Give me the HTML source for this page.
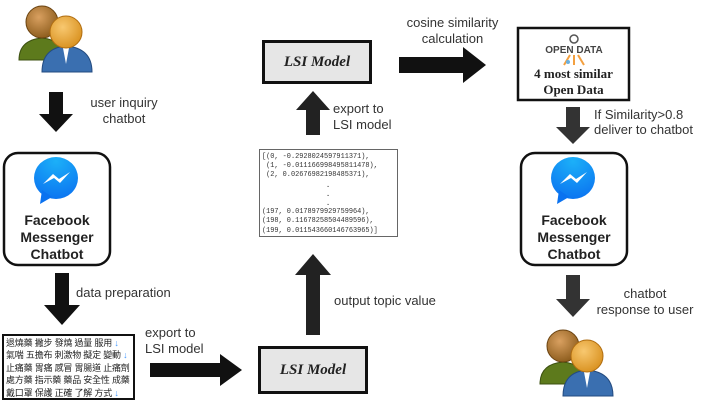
<!DOCTYPE html>
<html><head><meta charset="utf-8"><style>
body{margin:0;width:708px;height:403px;background:#fff;overflow:hidden;position:relative;font-family:"Liberation Sans",sans-serif}
.t{position:absolute;font-size:13px;color:#333;text-align:center;line-height:16px;white-space:nowrap}
.b{position:absolute;font-weight:bold;font-size:14px;color:#222;text-align:center;line-height:17px}
.code{position:absolute;left:259px;top:149px;width:139px;height:88px;border:1.5px solid #666;font-family:"Liberation Mono",monospace;font-size:6.9px;line-height:9.2px;color:#333;box-sizing:border-box;padding:3px 2px;white-space:pre;overflow:hidden}
.zh{position:absolute;left:2px;top:334px;width:133px;height:66px;border:2px solid #111;box-sizing:border-box;font-family:"Liberation Sans","Noto Sans CJK TC",sans-serif;font-size:9px;line-height:12.4px;padding:1px 2px;color:#222;white-space:nowrap;overflow:hidden;letter-spacing:-0.2px}
.zh span{color:#49f}
.lsi{position:absolute;width:110px;height:44px;border:3px solid #111;background:#e6e6e6;box-sizing:border-box;font-family:"Liberation Serif",serif;font-weight:bold;font-style:italic;font-size:15px;line-height:38px;text-align:center;color:#222}
</style></head><body>
<svg width="708" height="403" style="position:absolute;left:0;top:0">
<defs>
<radialGradient id="h1" cx="0.4" cy="0.35" r="0.7"><stop offset="0" stop-color="#d9a060"/><stop offset="1" stop-color="#8a5a1a"/></radialGradient>
<radialGradient id="h2" cx="0.4" cy="0.35" r="0.7"><stop offset="0" stop-color="#f8c870"/><stop offset="1" stop-color="#d8901e"/></radialGradient>
<radialGradient id="fb" cx="0.5" cy="0.1" r="1"><stop offset="0" stop-color="#1cb0f8"/><stop offset="1" stop-color="#0a6ff0"/></radialGradient>
<g id="users">
<path d="M5 58 Q5 38 28 36 Q50 38 52 58 Z" fill="#5d7a1c" stroke="#3c5010"/>
<circle cx="28" cy="20" r="16" fill="url(#h1)" stroke="#6b4310"/>
<path d="M28 70 Q28 46 52 44 Q78 46 78 70 Z" fill="#3a6fb0" stroke="#234b80"/>
<path d="M49 46 L52 62 L55 46 Z" fill="#fff"/>
<circle cx="52" cy="30" r="16" fill="url(#h2)" stroke="#b06d10"/>
</g>
<g id="msg">
<ellipse cx="0" cy="0" rx="22" ry="21" fill="url(#fb)"/>
<path d="M-14 12 L-16 26 L-4 19 Z" fill="#0a72f0"/>
<path d="M-13 6 l10 -10 l6 5 l11 -7 l-10 11 l-6 -5 z" fill="#fff"/>
</g>
</defs>
<use href="#users" x="14" y="2"/>
<use href="#users" x="535" y="326"/>
<rect x="4" y="153" width="106" height="112" rx="14" fill="#fff" stroke="#111" stroke-width="2.5"/>
<rect x="521" y="153" width="106" height="112" rx="14" fill="#fff" stroke="#111" stroke-width="2.5"/>
<use href="#msg" x="56" y="178"/>
<use href="#msg" x="573" y="178"/>
<rect x="518" y="28" width="111" height="72" fill="#fff" stroke="#111" stroke-width="2.5"/>
<g fill="#111">
<path d="M49 92 h14 v22 h10 l-17 18 l-17 -18 h10 z"/>
<path d="M55 273 h14 v32 h11 l-18 20 l-18 -20 h11 z"/>
<path d="M566 107 h14 v20 h10 l-17 17 l-17 -17 h10 z" fill="#333"/>
<path d="M566 275 h14 v24 h10 l-17 18 l-17 -18 h10 z" fill="#333"/>
<path d="M150 363 h70 v-9 l22 16 l-22 16 v-9 h-70 z"/>
<path d="M399 57 h64 v-10 l23 18 l-23 18 v-10 h-64 z"/>
<path d="M306 335 v-60 h-11 l18 -21 l18 21 h-11 v60 z" fill="#222"/>
<path d="M306 135 v-25 h-10 l17 -19 l17 19 h-10 v25 z" fill="#222"/>
</g>
<circle cx="574" cy="39" r="4" fill="none" stroke="#555" stroke-width="1.5"/>
<text x="574" y="53" font-family="Liberation Sans" font-size="10" font-weight="bold" fill="#444" text-anchor="middle">OPEN DATA</text>
<path d="M570 55 l-6 10 M574 55 l0 10 M578 55 l6 10" stroke="#f3a040" stroke-width="2"/>
<circle cx="568" cy="62" r="2" fill="#6ab0e0"/>
</svg>
<div class="t" style="left:84px;top:95px;width:80px">user inquiry<br>chatbot</div>
<div class="b" style="left:4px;top:212px;width:106px">Facebook<br>Messenger<br>Chatbot</div>
<div class="b" style="left:521px;top:212px;width:106px">Facebook<br>Messenger<br>Chatbot</div>
<div class="t" style="left:76px;top:285px;text-align:left">data preparation</div>
<div class="t" style="left:145px;top:325px;text-align:left">export to<br>LSI model</div>
<div class="t" style="left:334px;top:293px;text-align:left">output topic value</div>
<div class="t" style="left:333px;top:101px;text-align:left">export to<br>LSI model</div>
<div class="t" style="left:395px;top:15px;width:115px">cosine similarity<br>calculation</div>
<div class="t" style="left:594px;top:107px;text-align:left;line-height:15px">If Similarity&gt;0.8<br>deliver to chatbot</div>
<div class="t" style="left:595px;top:286px;width:100px">chatbot<br>response to user</div>
<div class="b" style="left:518px;top:66px;width:111px;font-family:'Liberation Serif',serif;font-size:13px;line-height:16px">4 most similar<br>Open Data</div>
<div class="lsi" style="left:262px;top:40px">LSI Model</div>
<div class="lsi" style="left:258px;top:346px;height:48px;line-height:42px">LSI Model</div>
<div class="code">[(0, -0.2928024597911371),
 (1, -0.011166998495811478),
 (2, 0.02676982198485371),
<span style="position:absolute;left:66px;top:32px;line-height:9px;font-weight:bold">.<br>.<br>.</span>


(197, 0.0178979929759964),
(198, 0.11678258504489596),
(199, 0.011543660146763965)]</div>
<div class="zh">退燒藥 撇步 發燒 過量 服用 <span>↓</span><br>氣喘 五擔布 刺激物 擬定 變動 <span>↓</span><br>止痛藥 胃痛 感冒 胃腸道 止痛劑 <span>↓</span><br>處方藥 指示藥 藥品 安全性 成藥 <span>↓</span><br>戴口罩 保護 正確 了解 方式 <span>↓</span></div>
</body></html>
